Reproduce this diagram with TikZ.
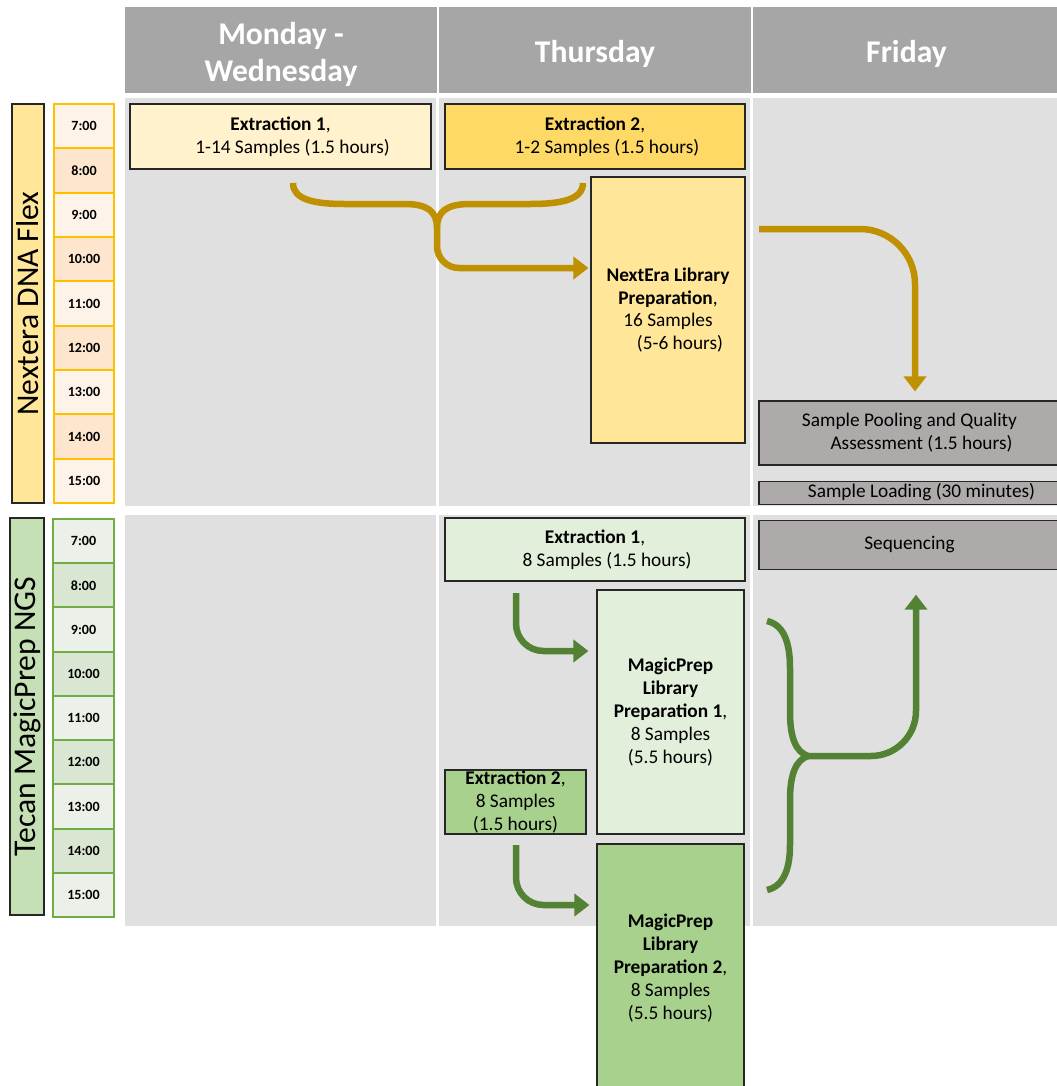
\documentclass[tikz,border=0pt]{standalone}
\usepackage{fontspec}
\setmainfont{Carlito}
\usetikzlibrary{arrows.meta, positioning, calc}
\definecolor{headGray}{HTML}{A6A6A6}
\definecolor{panelGray}{HTML}{E0E0E0}
\definecolor{boxGray}{HTML}{AEAAAA}
\definecolor{nextLight}{HTML}{FFF2CC}
\definecolor{nextMid}{HTML}{FFE699}
\definecolor{nextDark}{HTML}{FFD966}
\definecolor{nextEdge}{HTML}{FFC000}
\definecolor{nextCellA}{HTML}{FEF3E8}
\definecolor{nextCellB}{HTML}{FDE6CD}
\definecolor{magicLight}{HTML}{E2EFDA}
\definecolor{magicMid}{HTML}{C5E0B4}
\definecolor{magicDark}{HTML}{A9D18E}
\definecolor{magicEdge}{HTML}{70AD47}
\definecolor{magicCellA}{HTML}{EBF1E8}
\definecolor{magicCellB}{HTML}{D9E6D2}
\definecolor{arrowGold}{HTML}{BF9000}
\definecolor{arrowGreen}{HTML}{548235}
\newlength{\pxu}\setlength{\pxu}{0.02cm}
\newcommand{\indentln}{\hspace*{0.48cm}}
\tikzstyle{dayhead} = [rectangle, fill=headGray, text=white, font=\fontsize{18}{21}\selectfont\bfseries, align=center, inner sep=0pt, minimum height=86\pxu]
\tikzstyle{task} = [rectangle, draw=black!85, line width=0.6pt, font=\fontsize{11}{13}\selectfont, align=center, inner sep=0pt]
\tikzstyle{hourcell} = [rectangle, line width=0.04cm, font=\fontsize{8}{9}\selectfont\bfseries, inner sep=0pt]
\tikzstyle{kitlabel} = [rectangle, draw=black!85, line width=0.04cm, rotate=90, font=\fontsize{18}{21}\selectfont, inner sep=0pt]
\tikzstyle{flow} = [line width=0.13cm, >={Triangle[width=0.44cm,length=0.3cm]}]

\begin{document}
\begin{tikzpicture}[x=0.02cm, y=-0.02cm]
            \useasboundingbox (0,0) rectangle (1057,1086);

            % Day columns
            \node (hdmon) [dayhead, minimum width=312\pxu] at (281,50) {\\[-3.7pt]Monday -\\Wednesday};
            \node (hdthu) [dayhead, minimum width=312\pxu] at (595,50) {\\[-3.7pt]Thursday};
            \node (hdfri) [dayhead, minimum width=307\pxu] at (906.5,50) {\\[-3.7pt]Friday};
            \fill[panelGray] (125,98) rectangle (436,506);
            \fill[panelGray] (439,98) rectangle (750,506);
            \fill[panelGray] (753,98) rectangle (1060,506);
            \fill[panelGray] (125,515) rectangle (436,926);
            \fill[panelGray] (439,515) rectangle (750,926);
            \fill[panelGray] (753,515) rectangle (1060,926);

            % Kits and hours
            \node (lblnext) [kitlabel, fill=nextMid, minimum width=399\pxu, minimum height=32\pxu] at (28,303.5) {Nextera DNA Flex};
            \node (lbltecan) [kitlabel, fill=magicMid, minimum width=397\pxu, minimum height=34\pxu] at (27,716.5) {Tecan MagicPrep NGS};
            \foreach \t/\c [count=\i from 0] in {7:00/nextCellA, 8:00/nextCellB, 9:00/nextCellA, 10:00/nextCellB, 11:00/nextCellA, 12:00/nextCellB, 13:00/nextCellA, 14:00/nextCellB, 15:00/nextCellA}
                \node (nt\i) [hourcell, draw=nextEdge, fill=\c, minimum width=60\pxu, minimum height=44.33\pxu] at (84,{104+44.33*(\i+0.5)}) {\t};
            \foreach \t/\c [count=\i from 0] in {7:00/magicCellA, 8:00/magicCellB, 9:00/magicCellA, 10:00/magicCellB, 11:00/magicCellA, 12:00/magicCellB, 13:00/magicCellA, 14:00/magicCellB, 15:00/magicCellA}
                \node (mt\i) [hourcell, draw=magicEdge, fill=\c, minimum width=61\pxu, minimum height=44.22\pxu] at (83.5,{519+44.22*(\i+0.5)}) {\t};

            % Nextera tasks
            \node (ext1n) [task, fill=nextLight, minimum width=301\pxu, minimum height=65\pxu] at (280.5,136.5) {\textbf{Extraction 1},\\\indentln 1-14 Samples (1.5 hours)};
            \node (ext2n) [task, fill=nextDark, minimum width=300\pxu, minimum height=65\pxu] at (595,136.5) {\textbf{Extraction 2},\\\indentln 1-2 Samples (1.5 hours)};
            \node (libn) [task, fill=nextMid, minimum width=154\pxu, minimum height=266\pxu] at (668,310) {\textbf{NextEra Library}\\\textbf{Preparation},\\16 Samples\\\indentln(5-6 hours)};
            \node (pool) [task, fill=boxGray, minimum width=301\pxu, minimum height=64\pxu] at (909.5,433) {Sample Pooling and Quality\\\indentln Assessment (1.5 hours)};
            \node (load) [task, fill=boxGray, minimum width=301\pxu, minimum height=23\pxu, below=0.3cm of pool] {\indentln Sample Loading (30 minutes)};
            \node (seq) [task, fill=boxGray, minimum width=301\pxu, minimum height=49\pxu, below=0.3cm of load] {Sequencing};

            % MagicPrep tasks
            \node (ext1g) [task, fill=magicLight, minimum width=300\pxu, minimum height=63\pxu] at (595,549.5) {\textbf{Extraction 1},\\\indentln 8 Samples (1.5 hours)};
            \node (mp1) [task, fill=magicLight, minimum width=147\pxu, minimum height=244\pxu] at (670.5,712) {\textbf{MagicPrep}\\\textbf{Library}\\\textbf{Preparation 1},\\8 Samples\\(5.5 hours)};
            \node (ext2g) [task, fill=magicDark, minimum width=141\pxu, minimum height=64\pxu] at (515.5,802) {\textbf{Extraction 2},\\8 Samples\\(1.5 hours)};
            \node (mp2) [task, fill=magicDark, minimum width=147\pxu, minimum height=248\pxu] at (670.5,968) {\textbf{MagicPrep}\\\textbf{Library}\\\textbf{Preparation 2},\\8 Samples\\(5.5 hours)};

            % Nextera flow
            \coordinate (ext1tail) at (293,183);
            \coordinate (ext2tail) at (583,183);
            \coordinate (nxjoin) at (437,228);
            \coordinate (nxbend) at (437,268);
            \draw[flow, arrowGold] (ext1tail) .. controls (293,200) and (315,204) .. (345,204) -- (405,204) .. controls (428,204) and (437,212) .. (nxjoin);
            \draw[flow, arrowGold] (ext2tail) .. controls (583,200) and (560,204) .. (530,204) -- (470,204) .. controls (446,204) and (437,212) .. (nxjoin);
            \draw[flow, arrowGold, ->, rounded corners=0.44cm] (nxjoin) -- (nxbend) -- ($(libn.west |- nxbend)+(-2,0)$);
            \coordinate (frtail) at (759,229);
            \coordinate (frturn) at (915,229);
            \draw[flow, arrowGold, ->, rounded corners=1.1cm] (frtail) -- (frturn) -- ($(frturn |- pool.north)+(0,-9)$);

            % MagicPrep flow
            \coordinate (mg1tail) at (516,593);
            \coordinate (mg1bend) at (516,651);
            \draw[flow, arrowGreen, ->, rounded corners=0.55cm] (mg1tail) -- (mg1bend) -- ($(mp1.west |- mg1bend)+(-8,0)$);
            \coordinate (mg2tail) at (516,845);
            \coordinate (mg2bend) at (516,905);
            \draw[flow, arrowGreen, ->, rounded corners=0.55cm] (mg2tail) -- (mg2bend) -- ($(mp2.west |- mg2bend)+(-7,0)$);
            \coordinate (mp1tail) at (767,621);
            \coordinate (mp2tail) at (767,890);
            \coordinate (mgjoin) at (808,756);
            \coordinate (mgturn) at (916,756);
            \draw[flow, arrowGreen] (mp1tail) .. controls (785,625) and (790,645) .. (790,668) -- (790,712) .. controls (790,738) and (796,752) .. (mgjoin);
            \draw[flow, arrowGreen] (mp2tail) .. controls (785,886) and (790,866) .. (790,845) -- (790,800) .. controls (790,774) and (796,760) .. (mgjoin);
            \draw[flow, arrowGreen, ->, rounded corners=0.9cm] (mgjoin) -- (mgturn) -- ($(mgturn |- seq.south)+(0,25)$);
        \end{tikzpicture}
\end{document}
